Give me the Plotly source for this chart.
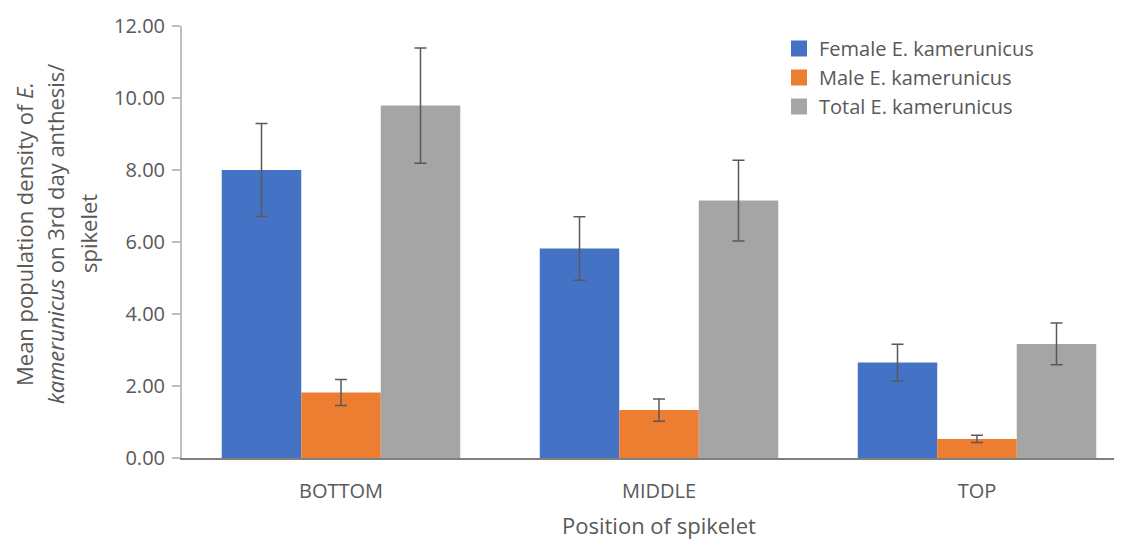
import plotly.graph_objects as go

categories = ["BOTTOM", "MIDDLE", "TOP"]
series_names = ["Female E. kamerunicus", "Male E. kamerunicus", "Total E. kamerunicus"]
female = [8.00, 5.82, 2.65]
female_err = [1.29, 0.88, 0.51]
male = [1.82, 1.33, 0.53]
male_err = [0.36, 0.31, 0.10]
total = [9.79, 7.15, 3.17]
total_err = [1.60, 1.12, 0.58]
y_ticks = [0, 2, 4, 6, 8, 10, 12]

colors = ["#4472C4", "#ED7D31", "#A5A5A5"]
text_color = "#595959"
font_family = "Open Sans, DejaVu Sans, sans-serif"

# page body has an 8px margin; figure is sized so it ends at the window edge
W, H = 1114, 533
L, R, T, B = 174, 0, 18, 83
pw = W - L - R
ph = H - T - B

fig = go.Figure()
for name, vals, errs, col in zip(series_names, [female, male, total],
                                 [female_err, male_err, total_err], colors):
    fig.add_trace(go.Bar(
        x=categories, y=vals, name=name, marker=dict(color=col, line=dict(width=0)),
        error_y=dict(type="data", array=errs, visible=True, color="#595959",
                     thickness=1.5, width=6),
        showlegend=False, legendgroup=name,
    ))
# legend entries with larger square swatches
for name, col in zip(series_names, colors):
    fig.add_trace(go.Scatter(
        x=[None], y=[None], mode="markers", name=name, legendgroup=name,
        marker=dict(symbol="square", size=16, color=col), showlegend=True,
    ))

# helpers: screen pixel (reference) -> paper coords
def px_x(p):
    return (p - 8 - L) / pw

def px_y(p):
    return (H - B - (p - 8)) / ph

title_lines = [
    ("Mean population density of <i>E.</i>", 24),
    ("<i>kamerunicus</i> on 3rd day anthesis/", 55),
    ("spikelet", 88),
]
for txt, xp in title_lines:
    fig.add_annotation(text=txt, xref="paper", yref="paper", x=px_x(xp), y=px_y(234),
                       textangle=-90, showarrow=False, xanchor="center", yanchor="middle",
                       font=dict(size=22, color=text_color, family=font_family))

fig.add_annotation(text="Position of spikelet", xref="x", yref="paper", x=1, y=px_y(525),
                   showarrow=False, xanchor="center", yanchor="middle",
                   font=dict(size=22, color=text_color, family=font_family))

fig.update_layout(
    width=W, height=H,
    margin=dict(l=L, r=R, t=T, b=B, pad=0),
    paper_bgcolor="white", plot_bgcolor="white",
    barmode="group", bargap=0.25, bargroupgap=0,
    font=dict(family=font_family, size=20, color=text_color),
    legend=dict(x=px_x(779), y=px_y(29), xanchor="left", yanchor="top",
                font=dict(size=20, color=text_color), itemwidth=30,
                tracegroupgap=0, bgcolor="rgba(0,0,0,0)"),
    showlegend=True,
)
fig.update_xaxes(
    range=[-0.5, 2.5 - 14 / 318], showline=True, linecolor="#7F7F7F", linewidth=1.5,
    ticks="", showgrid=False, zeroline=False, ticklabelstandoff=14,
    tickfont=dict(size=20, color=text_color),
)
fig.update_yaxes(
    range=[0, 12], tickvals=y_ticks, tickformat=".2f", showline=True,
    linecolor="#BFBFBF", linewidth=2, ticks="outside", ticklen=8, tickcolor="#BFBFBF",
    tickwidth=2, showgrid=False, zeroline=False, ticklabelstandoff=3,
    tickfont=dict(size=20, color=text_color),
)

fig.write_html("out.html")
